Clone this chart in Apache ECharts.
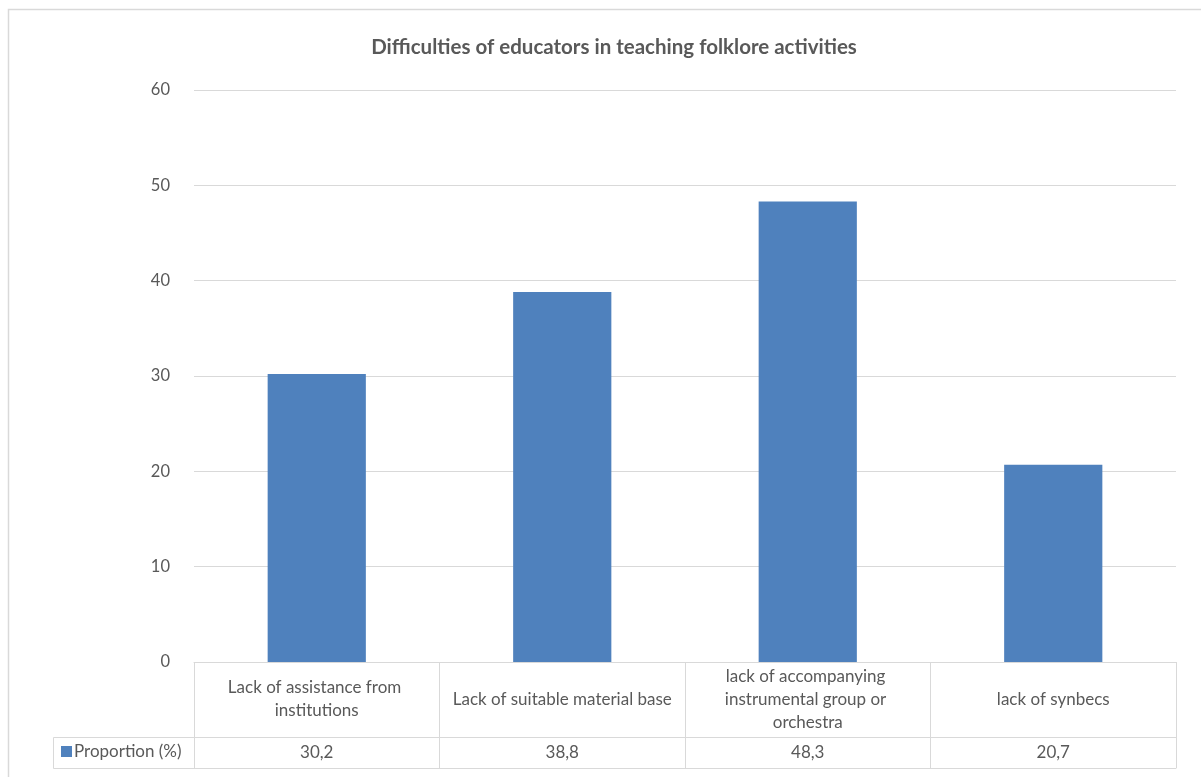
<!DOCTYPE html>
<html>
<head>
<meta charset="utf-8">
<title>Difficulties of educators in teaching folklore activities</title>
<script src="https://cdn.jsdelivr.net/npm/echarts@6/dist/echarts.min.js"></script>
<style>
  html, body { margin: 0; padding: 0; background: #ffffff; }
  #chart { width: 1201px; height: 777px; }
</style>
</head>
<body>
<div id="chart"></div>
<script>
// Chart data
const chartTitle = 'Difficulties of educators in teaching folklore activities';
const seriesName = 'Proportion (%)';
const categories = [
  'Lack of assistance from institutions',
  'Lack of suitable material base',
  'lack of accompanying instrumental group or orchestra',
  'lack of synbecs'
];
const proportions = [30.2, 38.8, 48.3, 20.7];
const yTicks = { min: 0, max: 60, interval: 10 };

// Values as printed in the data table (decimal comma)
const tableValues = proportions.map(v => v.toFixed(1).replace('.', ','));

const FONT = 'Lato, "Open Sans", sans-serif';
const TEXT = '#595959';
const LINE = '#d9d9d9';
const BAR = '#4f81bd';

const gridBox = { left: 194, right: 25, top: 90, bottom: 115 };
const rowHeights = [75, 31];      // category row, value row
const legendCellLeft = 53;

const chart = echarts.init(document.getElementById('chart'), null, { renderer: 'canvas' });

const tableBottomY = 777 - gridBox.bottom + rowHeights[0] + rowHeights[1];
const valueRowTop = 777 - gridBox.bottom + rowHeights[0];

chart.setOption({
  backgroundColor: '#ffffff',
  animation: false,
  title: {
    text: chartTitle,
    left: 609,
    textAlign: 'center',
    top: 32,
    textStyle: { fontFamily: FONT, fontSize: 20.5, fontWeight: 'bold', color: TEXT }
  },
  legend: {
    data: [seriesName],
    left: 61,
    top: valueRowTop + 6,
    icon: 'rect',
    itemWidth: 11,
    itemHeight: 11,
    itemGap: 4,
    padding: 0,
    selectedMode: false,
    textStyle: { fontFamily: FONT, fontSize: 17, color: TEXT, padding: [0, 0, 0, -3] }
  },
  grid: gridBox,
  xAxis: [
    {
      // category row of the data table
      type: 'category',
      data: categories,
      position: 'bottom',
      axisLine: { show: true, lineStyle: { color: LINE, width: 1 } },
      axisTick: { show: true, length: rowHeights[0] + rowHeights[1], lineStyle: { color: LINE, width: 1 } },
      axisLabel: {
        interval: 0,
        margin: rowHeights[0] / 2,
        verticalAlign: 'middle',
        width: 232,
        overflow: 'break',
        lineHeight: 23,
        fontFamily: FONT,
        fontSize: 17,
        color: TEXT
      },
      splitLine: { show: false }
    },
    {
      // value row of the data table
      type: 'category',
      data: tableValues,
      position: 'bottom',
      offset: rowHeights[0],
      axisLine: { show: true, lineStyle: { color: LINE, width: 1 } },
      axisTick: { show: false },
      axisLabel: {
        interval: 0,
        margin: rowHeights[1] / 2,
        verticalAlign: 'middle',
        fontFamily: FONT,
        fontSize: 17,
        color: TEXT
      },
      splitLine: { show: false }
    },
    {
      // bottom edge of the data table
      type: 'category',
      data: categories,
      position: 'bottom',
      offset: rowHeights[0] + rowHeights[1],
      axisLine: { show: true, lineStyle: { color: LINE, width: 1 } },
      axisTick: { show: false },
      axisLabel: { show: false },
      splitLine: { show: false }
    }
  ],
  yAxis: {
    type: 'value',
    min: yTicks.min,
    max: yTicks.max,
    interval: yTicks.interval,
    axisLine: { show: false },
    axisTick: { show: false },
    axisLabel: { margin: 24, fontFamily: FONT, fontSize: 16.5, color: TEXT },
    splitLine: { show: true, lineStyle: { color: LINE, width: 1 } }
  },
  series: [
    {
      name: seriesName,
      type: 'bar',
      xAxisIndex: 0,
      data: proportions,
      barWidth: '40%',
      itemStyle: { color: BAR }
    }
  ],
  graphic: [
    {
      // chart area frame
      type: 'rect',
      silent: true,
      shape: { x: 8.5, y: 9.5, width: 1400, height: 1000 },
      style: { fill: 'none', stroke: LINE, lineWidth: 1.5 }
    },
    {
      // legend-key cell of the data table
      type: 'rect',
      silent: true,
      shape: {
        x: legendCellLeft + 0.5,
        y: valueRowTop + 0.5,
        width: gridBox.left - legendCellLeft,
        height: tableBottomY - valueRowTop
      },
      style: { fill: 'none', stroke: LINE, lineWidth: 1 }
    }
  ]
});
</script>
</body>
</html>
